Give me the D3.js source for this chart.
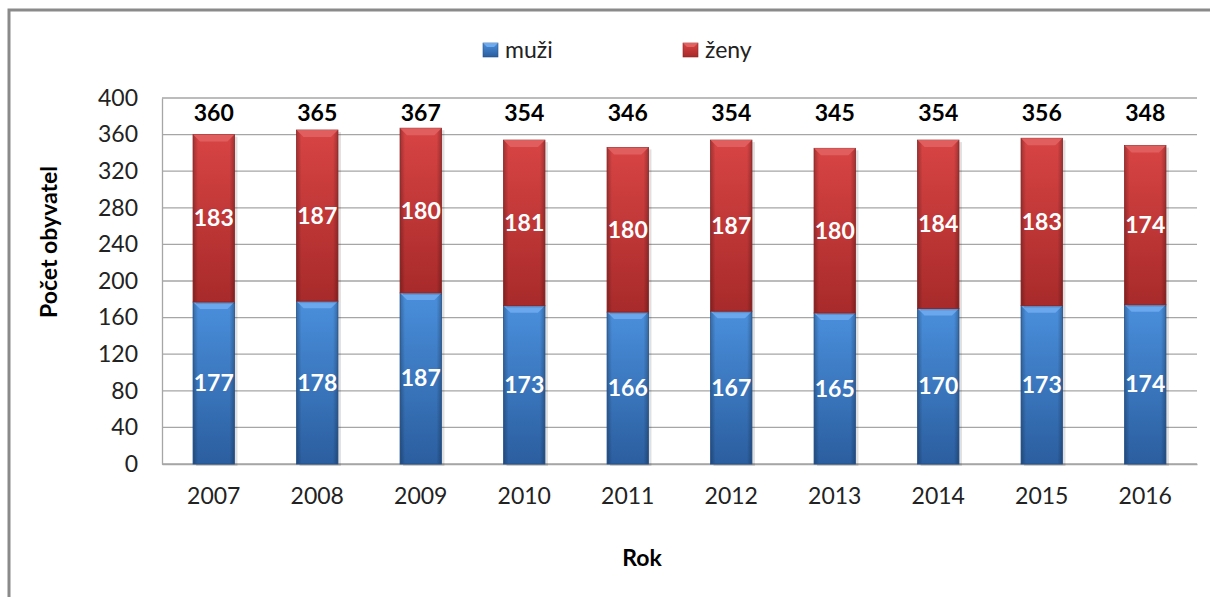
<!DOCTYPE html>
<html>
<head>
<meta charset="utf-8">
<script src="https://cdn.jsdelivr.net/npm/d3@7"></script>
<style>
  body { margin: 0; background: #fff; }
  text { font-family: Lato, "Open Sans", sans-serif; }
</style>
</head>
<body>
<script>
const years = ["2007", "2008", "2009", "2010", "2011", "2012", "2013", "2014", "2015", "2016"];
const muzi = [177, 178, 187, 173, 166, 167, 165, 170, 173, 174];
const zeny = [183, 187, 180, 181, 180, 187, 180, 184, 183, 174];
const yTicks = [0, 40, 80, 120, 160, 200, 240, 280, 320, 360, 400];
const seriesNames = ["muži", "ženy"];

const width = 1210,
      height = 597;
const plot = { left: 162, right: 1197, top: 98, bottom: 464 };

const svg = d3.select("body")
  .append("svg")
  .attr("width", width)
  .attr("height", height);

// gradients for the bevelled bars
const defs = svg.append("defs");
const colors = [
  { id: "blue", top: "#4a8fdc", bottom: "#2b5e9f", bevel: "#6eaaee", edge: "#24508a" },
  { id: "red", top: "#d84444", bottom: "#a82a2a", bevel: "#e26262", edge: "#8c2222" }
];
colors.forEach((c) => {
  const g = defs.append("linearGradient")
    .attr("id", "grad-" + c.id)
    .attr("x1", 0).attr("y1", 0).attr("x2", 0).attr("y2", 1);
  g.append("stop").attr("offset", "0%").attr("stop-color", c.top);
  g.append("stop").attr("offset", "100%").attr("stop-color", c.bottom);
  const h = defs.append("linearGradient")
    .attr("id", "side-" + c.id)
    .attr("x1", 0).attr("y1", 0).attr("x2", 1).attr("y2", 0);
  h.append("stop").attr("offset", "0%").attr("stop-color", "#000").attr("stop-opacity", 0.25);
  h.append("stop").attr("offset", "12%").attr("stop-color", "#000").attr("stop-opacity", 0);
  h.append("stop").attr("offset", "88%").attr("stop-color", "#000").attr("stop-opacity", 0);
  h.append("stop").attr("offset", "100%").attr("stop-color", "#000").attr("stop-opacity", 0.25);
});

// outer frame
svg.append("path")
  .attr("d", "M9,597 L9,10 L1210,10")
  .attr("fill", "none")
  .attr("stroke", "#8a8a8a")
  .attr("stroke-width", 3);

const x = d3.scaleBand()
  .domain(years)
  .range([plot.left, plot.right])
  .paddingInner(0.6)
  .paddingOuter(0.3);

const y = d3.scaleLinear()
  .domain([0, 400])
  .range([plot.bottom, plot.top]);

// grid lines
svg.append("g")
  .selectAll("line")
  .data(yTicks)
  .enter()
  .append("line")
  .attr("x1", plot.left)
  .attr("x2", plot.right)
  .attr("y1", (d) => y(d))
  .attr("y2", (d) => y(d))
  .attr("stroke", "#a6a6a6")
  .attr("stroke-width", 1.3);

// y axis
const yAxis = svg.append("g")
  .attr("transform", "translate(" + plot.left + ",0)")
  .call(d3.axisLeft(y).tickValues(yTicks).tickSize(0).tickPadding(24));
yAxis.select(".domain").attr("stroke", "#a6a6a6").attr("stroke-width", 1.3);
yAxis.selectAll("text")
  .style("font-size", "23px")
  .style("font-family", "Lato, sans-serif")
  .attr("fill", "#222");

// x axis
const xAxis = svg.append("g")
  .attr("transform", "translate(0," + plot.bottom + ")")
  .call(d3.axisBottom(x).tickSize(0).tickPadding(24));
xAxis.select(".domain").attr("stroke", "#a6a6a6").attr("stroke-width", 1.3);
xAxis.selectAll("text")
  .style("font-size", "23px")
  .style("font-family", "Lato, sans-serif")
  .attr("fill", "#222");

// stacked data
const table = years.map((yr, i) => ({ year: yr, muzi: muzi[i], zeny: zeny[i] }));
const stack = d3.stack().keys(["muzi", "zeny"])(table);

const bars = svg.append("g").attr("class", "bars");

stack.forEach((layer, li) => {
  const c = colors[li];
  const g = bars.append("g");
  const seg = g.selectAll("g")
    .data(layer)
    .enter()
    .append("g");

  // soft shadow
  seg.append("rect")
    .attr("x", (d) => x(d.data.year) + 3)
    .attr("y", (d) => y(d[1]) + 2)
    .attr("width", x.bandwidth())
    .attr("height", (d) => y(d[0]) - y(d[1]))
    .attr("fill", "#000")
    .attr("opacity", 0.12);

  seg.append("rect")
    .attr("x", (d) => x(d.data.year))
    .attr("y", (d) => y(d[1]))
    .attr("width", x.bandwidth())
    .attr("height", (d) => y(d[0]) - y(d[1]))
    .attr("fill", "url(#grad-" + c.id + ")");

  seg.append("rect")
    .attr("x", (d) => x(d.data.year))
    .attr("y", (d) => y(d[1]))
    .attr("width", x.bandwidth())
    .attr("height", (d) => y(d[0]) - y(d[1]))
    .attr("fill", "url(#side-" + c.id + ")")
    .attr("stroke", c.edge)
    .attr("stroke-width", 0.8);

  // top bevel
  seg.append("path")
    .attr("d", (d) => {
      const x0 = x(d.data.year), x1 = x0 + x.bandwidth(), t = y(d[1]), b = 7;
      return "M" + x0 + "," + t + " L" + x1 + "," + t +
             " L" + (x1 - b) + "," + (t + b) + " L" + (x0 + b) + "," + (t + b) + " Z";
    })
    .attr("fill", c.bevel)
    .attr("opacity", 0.9);

  // values inside
  seg.append("text")
    .attr("x", (d) => x(d.data.year) + x.bandwidth() / 2)
    .attr("y", (d) => (y(d[0]) + y(d[1])) / 2)
    .attr("dy", "0.35em")
    .attr("text-anchor", "middle")
    .attr("fill", "#fff")
    .style("font-size", "23px")
    .style("font-weight", "bold")
    .text((d) => d[1] - d[0]);
});

// totals above
svg.append("g")
  .selectAll("text")
  .data(table)
  .enter()
  .append("text")
  .attr("x", (d) => x(d.year) + x.bandwidth() / 2)
  .attr("y", y(384))
  .attr("dy", "0.35em")
  .attr("text-anchor", "middle")
  .attr("fill", "#000")
  .style("font-size", "23px")
  .style("font-weight", "bold")
  .text((d) => d.muzi + d.zeny);

// legend
const legend = svg.append("g");
const legendX = [483, 683];
seriesNames.forEach((name, i) => {
  const c = colors[i];
  legend.append("rect")
    .attr("x", legendX[i])
    .attr("y", 43)
    .attr("width", 15)
    .attr("height", 14)
    .attr("fill", "url(#grad-" + c.id + ")")
    .attr("stroke", c.edge)
    .attr("stroke-width", 0.6);
  legend.append("path")
    .attr("d", "M" + legendX[i] + ",43 L" + (legendX[i] + 15) + ",43 L" + (legendX[i] + 11) + ",47 L" + (legendX[i] + 4) + ",47 Z")
    .attr("fill", c.bevel);
  legend.append("text")
    .attr("x", legendX[i] + 22)
    .attr("y", 58)
    .attr("fill", "#222")
    .style("font-size", "23px")
    .text(name);
});

// axis titles
svg.append("text")
  .attr("x", 642)
  .attr("y", 566)
  .attr("text-anchor", "middle")
  .attr("fill", "#000")
  .style("font-size", "23px")
  .style("font-weight", "bold")
  .text("Rok");

svg.append("text")
  .attr("transform", "translate(57,242) rotate(-90)")
  .attr("text-anchor", "middle")
  .attr("fill", "#000")
  .style("font-size", "23px")
  .style("font-weight", "bold")
  .text("Počet obyvatel");
</script>
</body>
</html>
